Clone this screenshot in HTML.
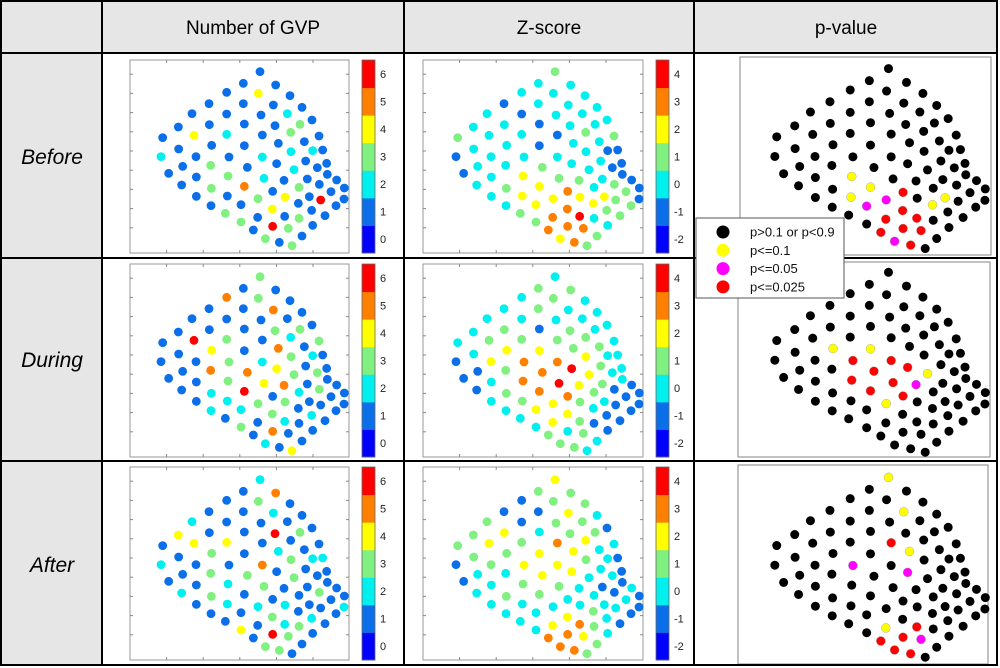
<!DOCTYPE html>
<html><head><meta charset="utf-8">
<style>
html,body{margin:0;padding:0;background:#fff;}
svg{display:block;font-family:"Liberation Sans",sans-serif;}
</style></head>
<body>
<svg id="fig" width="1000" height="668" viewBox="0 0 1000 668" xmlns="http://www.w3.org/2000/svg">
  <g>
    <rect x="1" y="1" width="996" height="52" fill="#e7e6e6"/>
    <rect x="1" y="53" width="101" height="612" fill="#e7e6e6"/>
  </g>
  <g font-size="19" fill="#000" text-anchor="middle">
    <text x="253" y="34">Number of GVP</text>
    <text x="549" y="34">Z-score</text>
    <text x="846" y="34">p-value</text>
  </g>
  <g font-size="21" font-style="italic" text-anchor="middle">
    <text x="52" y="164">Before</text>
    <text x="52" y="367">During</text>
    <text x="52" y="572">After</text>
  </g>
  <g id="panels"></g>
  <g stroke="#000" stroke-width="2" fill="none">
    <rect x="1" y="1" width="996" height="664"/>
    <line x1="102" y1="1" x2="102" y2="665"/>
    <line x1="404" y1="1" x2="404" y2="665"/>
    <line x1="694" y1="1" x2="694" y2="665"/>
    <line x1="1" y1="53" x2="997" y2="53"/>
    <line x1="1" y1="258" x2="997" y2="258"/>
    <line x1="1" y1="461" x2="997" y2="461"/>
  </g>
  <g id="legend"></g>
</svg>
<script>
// electrode layout (data units)
const electrodeX = [390,340,437,290,385,480,237,340,430,516,186,290,393,472,546,145,238,343,435,510,98,192,290,397,482,567,146,245,343,445,523,93,198,297,397,483,548,578,158,242,352,440,527,590,116,199,294,402,492,562,155,244,343,462,532,592,620,199,292,384,428,507,568,643,243,333,465,538,572,603,286,427,505,642,618,333,383,464,545,507,585,370,428,475,548,406,448,516,486];
const electrodeY = [50,85,90,112,115,122,146,146,150,157,176,177,180,176,195,216,209,207,212,208,248,241,238,240,232,243,282,271,272,265,260,305,305,306,306,290,287,285,334,331,337,326,318,325,355,366,363,370,344,338,390,400,394,376,372,358,375,424,423,431,409,397,388,399,452,449,426,425,435,410,475,462,445,432,452,501,487,484,466,490,482,525,514,520,511,551,562,543,572];

const gvpBefore = [1,1,1,1,4,1,1,1,1,1, 1,1,1,2,1,1,1,1,1,3, 1,4,2,1,3,1,1,1,1,1, 1,2,1,1,2,2,2,1,1,3, 1,1,1,1,1,1,3,2,2,1, 1,3,5,1,1,1,1,1,1,3, 1,3,1,1,1,1,4,1,6,1, 3,4,1,1,1,3,1,1,1,3, 1,1,6,3,1,3,1,1,3];
const gvpDuring = [3,1,1,5,3,1,1,1,5,1, 1,1,1,1,1,1,1,1,3,3, 1,6,3,1,2,3,1,4,1,5, 1,1,1,3,2,3,2,1,1,5, 5,4,1,1,1,1,3,4,3,3, 1,2,6,5,1,1,1,1,2,3, 1,2,3,1,2,2,3,1,1,1, 1,3,1,1,1,3,1,2,2,1, 1,1,5,1,1,2,1,1,4];
const gvpAfter = [2,1,5,1,3,1,1,1,2,1, 2,1,1,1,1,4,1,1,6,3, 1,4,4,1,1,1,1,3,1,2, 1,2,1,1,5,3,2,2,1,3, 3,1,1,1,1,1,2,3,3,1, 2,3,1,1,1,1,1,1,2,2, 1,1,3,1,1,1,2,1,1,1, 1,3,1,2,1,4,1,2,2,3, 1,1,6,3,1,3,3,1,1];

const zBefore = [1,0,0,0,0,0,-1,0,0,0, 0,-1,0,0,0,0,0,-1,0,0, 1,0,0,-1,1,1,0,0,-1,0, 0,-1,0,0,0,0,-1,-1,0,0, 1,0,0,-1,-1,0,2,1,0,-1, 0,1,2,1,0,-1,-1,0,2,2, 3,0,1,-1,0,2,2,2,1,1, 1,3,2,-1,1,1,3,4,1,0, 1,3,3,3,0,2,3,1,1];
const zDuring = [0,1,1,0,1,0,0,1,0,0, 0,0,0,0,0,0,1,-1,1,0, 0,1,1,1,1,0,0,2,2,1, 1,-1,2,3,3,2,0,0,-1,1, 3,4,1,0,-1,0,3,4,2,0, -1,1,3,2,1,0,-1,0,1,2, 3,1,-1,-1,0,2,1,0,-1,-1, 0,2,0,-1,-1,0,2,1,-1,-1, -1,1,0,1,-1,1,1,0,0];
const zAfter = [2,1,1,-1,1,1,-1,-1,2,0, 1,-1,1,1,-1,1,2,0,1,1, 1,2,1,3,2,0,1,1,2,2, 0,-1,1,2,2,1,0,-1,0,0, 2,2,0,-1,-1,0,1,1,0,0, 0,1,1,0,-1,-1,0,0,0,0, 0,0,-1,-1,0,0,0,0,0,0, 0,2,1,-1,-1,0,2,3,0,1, -1,3,3,2,0,3,3,1,1];

// p-value classes: electrode indices per significance level
const pBeforeY = [46,52,58,67,72], pBeforeM = [65,59,85], pBeforeR = [60,71,77,76,82,83,81,86];
const pDuringY = [27,28,48,59], pDuringM = [53], pDuringR = [33,34,41,40,46,47,52,60];
const pAfterY = [0,8,29,76], pAfterM = [33,41,83], pAfterR = [23,77,82,81,85,86];

const gvpTicks = [0,1,2,3,4,5,6];
const zTicks = [-2,-1,0,1,2,3,4];
const legendLabels = ["p>0.1 or p<0.9","p<=0.1","p<=0.05","p<=0.025"];

const JET = ['#0000ff','#0a6fe8','#00f0f0','#80f080','#ffff00','#ff8000','#ff0000'];
const PCOL = ['#000000','#ffff00','#ff00ff','#ff0000'];
const NS = 'http://www.w3.org/2000/svg';
const panels = document.getElementById('panels');
function mk(tag, attrs, parent){const e=document.createElementNS(NS,tag);for(const k in attrs)e.setAttribute(k,attrs[k]);parent.appendChild(e);return e;}

const rowShift = [0,205,408];
const boxTop = [60,264,467];
const pShift = [0,203.7,408.7];
const pBox = [[740,57,251,198],[738,262,252,195],[738,465,250,199]];
const rowNames = ['before','during','after'];

function gx(ex, colOff){return 130 + colOff + ex/3;}
function gy(ey, r){return 55 + rowShift[r] + ey/3;}
function px(ex){return 590 + 1.148*(130 + ex/3);}
function py(ey, r){return -5.5 + 1.034*(55 + ey/3) + pShift[r];}

function axesBox(x0,y0,w,h,name){
  const g = mk('g',{},panels);
  
  
  mk('rect',{x:x0,y:y0,width:w,height:h,fill:'#fff',stroke:'#999','stroke-width':1},g);
  for(let i=1;i<=5;i++){const x=x0+i*36.6;mk('line',{x1:x,y1:y0,x2:x,y2:y0+3,stroke:'#888'},g);mk('line',{x1:x,y1:y0+h,x2:x,y2:y0+h-3,stroke:'#888'},g);}
  for(let i=1;i<=9;i++){const y=y0+i*19.2-5;mk('line',{x1:x0,y1:y,x2:x0+3,y2:y,stroke:'#888'},g);mk('line',{x1:x0+w,y1:y,x2:x0+w-3,y2:y,stroke:'#888'},g);}
  return g;
}
function colorbar(x0,y0,h,ticks,name){
  const g = mk('g',{},panels);
  
  
  const n=ticks.length, bh=h/n;
  ticks.forEach((t,i)=>{
    const y=y0+h-(i+1)*bh;
    const r=mk('rect',{x:x0,y:y,width:13,height:bh+0.5,fill:JET[i]},g);
    
    
    const tx=mk('text',{x:x0+18,y:y+bh/2+4,'font-size':11,fill:'#222'},g);
    tx.textContent=t;
    
    
  });
  mk('rect',{x:x0,y:y0,width:13,height:h,fill:'none',stroke:'#666','stroke-width':0.8},g);
}

const gvpSets=[gvpBefore,gvpDuring,gvpAfter];
const zSets=[zBefore,zDuring,zAfter];
const pSets=[[pBeforeY,pBeforeM,pBeforeR],[pDuringY,pDuringM,pDuringR],[pAfterY,pAfterM,pAfterR]];

for(let r=0;r<3;r++){
  // GVP
  let g=axesBox(130,boxTop[r],219,193,'gvp-panel-'+rowNames[r]);
  gvpSets[r].forEach((v,i)=>{
    const c=mk('circle',{cx:gx(electrodeX[i],0),cy:gy(electrodeY[i],r),r:4.4,fill:JET[v]},g);
    
    
  });
  colorbar(362,boxTop[r],193,gvpTicks,'gvp-colorbar-'+rowNames[r]);
  // Z
  g=axesBox(423,boxTop[r],220,193,'zscore-panel-'+rowNames[r]);
  zSets[r].forEach((v,i)=>{
    const c=mk('circle',{cx:gx(electrodeX[i],295),cy:gy(electrodeY[i],r),r:4.4,fill:JET[v+2]},g);
    
    
  });
  colorbar(656,boxTop[r],193,zTicks,'zscore-colorbar-'+rowNames[r]);
  // p-value
  const b=pBox[r];
  g=mk('g',{},panels);
  
  
  mk('rect',{x:b[0],y:b[1],width:b[2],height:b[3],fill:'#fff',stroke:'#999','stroke-width':1.2},g);
  const cls=new Array(electrodeX.length).fill(0);
  pSets[r].forEach((list,k)=>list.forEach(i=>cls[i]=k+1));
  cls.forEach((k,i)=>{
    const c=mk('circle',{cx:px(electrodeX[i]),cy:py(electrodeY[i],r),r:4.5,fill:PCOL[k],stroke:k?'#999':'none','stroke-width':0.4},g);
    
    
  });
}

// legend
const lg=document.getElementById('legend');
mk('rect',{x:696,y:218,width:148,height:80,fill:'#fff',stroke:'#555','stroke-width':1},lg);
legendLabels.forEach((t,i)=>{
  const y=232+i*18.3;
  const c=mk('circle',{cx:723,cy:y,r:6.5,fill:PCOL[i]},lg);
  
  
  const tx=mk('text',{x:750,y:y+4.5,'font-size':13,fill:'#111'},lg);
  tx.textContent=t;
  
  
});
</script>
</body></html>
